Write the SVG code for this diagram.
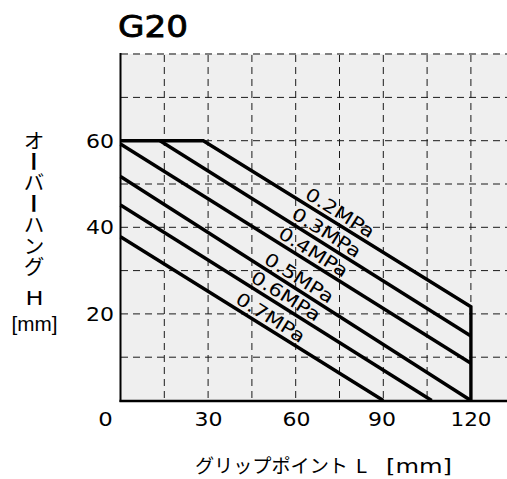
<svg xmlns="http://www.w3.org/2000/svg" width="507" height="479" viewBox="0 0 507 479">
<style>
.grid{stroke:#1a1a1a;stroke-width:1;stroke-dasharray:7 5;fill:none}
.topb{stroke:#808080;stroke-width:2;stroke-dasharray:7 5;fill:none}
.axis{stroke:#000;fill:none}
.curve{stroke:#000;stroke-width:3.4;fill:none;stroke-linejoin:miter;stroke-linecap:butt}
.num{font-family:"DejaVu Sans",sans-serif;font-size:19px;fill:#000}
.lbl{font-family:"DejaVu Sans",sans-serif;font-size:18px;fill:#000}
.jp{font-family:"Noto Sans CJK JP",sans-serif;font-size:20px;fill:#000}
.lat{font-family:"Liberation Sans",Arial,sans-serif;font-size:20px;fill:#000}
.dv{font-family:"DejaVu Sans",sans-serif;font-size:20px;fill:#000}
</style>
<rect width="507" height="479" fill="#fff"/>
<g id="plot">
<rect x="120.5" y="54" width="386.5" height="347" fill="#efefef"/>
<path class="grid" d="M164.3 55V400 M208.1 55V400 M251.9 55V400 M295.7 55V400 M339.5 55V400 M383.3 55V400 M427.1 55V400 M470.9 55V400"/>
<path class="grid" d="M121 97.4H507 M121 140.7H507 M121 184H507 M121 227.3H507 M121 270.6H507 M121 313.9H507 M121 357.2H507"/>
<path class="topb" d="M121 54.1H507"/>
<path class="axis" stroke-width="2" d="M120.5 53V402"/>
<path class="axis" stroke-width="2.5" d="M119.5 401H507"/>
</g>
<g id="curves">
<path class="curve" d="M120.5 140.7H203.3L470.9 306.7V400.5"/>
<path class="curve" d="M160 140.7L470.9 336"/>
<path class="curve" d="M120.5 144L470.9 363.3"/>
<path class="curve" d="M120.5 176.5L470.9 400.5"/>
<path class="curve" d="M120.5 205L431.7 400.5"/>
<path class="curve" d="M120.5 236.7L383.3 400.5"/>
</g>
<g id="curve-labels" class="lbl" text-anchor="middle">
<text transform="translate(336.7 218.1) rotate(32)" textLength="78" lengthAdjust="spacingAndGlyphs">0.2MPa</text>
<text transform="translate(323.2 237.9) rotate(32)" textLength="78" lengthAdjust="spacingAndGlyphs">0.3MPa</text>
<text transform="translate(310 257.3) rotate(32)" textLength="78" lengthAdjust="spacingAndGlyphs">0.4MPa</text>
<text transform="translate(295.9 283.2) rotate(32)" textLength="78" lengthAdjust="spacingAndGlyphs">0.5MPa</text>
<text transform="translate(282.5 301.4) rotate(32)" textLength="78" lengthAdjust="spacingAndGlyphs">0.6MPa</text>
<text transform="translate(267.2 322.8) rotate(32)" textLength="78" lengthAdjust="spacingAndGlyphs">0.7MPa</text>
</g>
<g id="title">
<text x="118" y="37" font-family="'DejaVu Sans',sans-serif" font-size="30" stroke="#000" stroke-width="0.8" textLength="70" lengthAdjust="spacingAndGlyphs">G20</text>
</g>
<g id="y-ticks" class="num" text-anchor="end">
<text x="114" y="147.7" textLength="28" lengthAdjust="spacingAndGlyphs">60</text>
<text x="114" y="234.3" textLength="28" lengthAdjust="spacingAndGlyphs">40</text>
<text x="114" y="321" textLength="28" lengthAdjust="spacingAndGlyphs">20</text>
</g>
<g id="x-ticks" class="num" text-anchor="middle">
<text x="105.5" y="426" textLength="14.5" lengthAdjust="spacingAndGlyphs">0</text>
<text x="208.5" y="426" textLength="28" lengthAdjust="spacingAndGlyphs">30</text>
<text x="296.5" y="426" textLength="28" lengthAdjust="spacingAndGlyphs">60</text>
<text x="382" y="426" textLength="28" lengthAdjust="spacingAndGlyphs">90</text>
<text x="471" y="426" textLength="41" lengthAdjust="spacingAndGlyphs">120</text>
</g>
<g id="y-axis-title">
<text class="jp" x="34" y="129.5" writing-mode="vertical-rl" style="font-size:21px">オ<tspan font-weight="bold">ー</tspan>バ<tspan font-weight="bold">ー</tspan>ハング</text>
<text class="dv" x="34.4" y="305" text-anchor="middle" textLength="18" lengthAdjust="spacingAndGlyphs">H</text>
<text class="lat" x="34.4" y="331" text-anchor="middle" textLength="46" lengthAdjust="spacingAndGlyphs">[mm]</text>
</g>
<g id="x-axis-title">
<text class="jp" x="195" y="472.5" style="font-size:19px" textLength="153" lengthAdjust="spacingAndGlyphs">グリップポイント</text>
<text class="dv" x="356" y="472.5" style="font-size:19px">L</text>
<text class="dv" x="386" y="472.5" style="font-size:19px" textLength="66" lengthAdjust="spacingAndGlyphs">[mm]</text>
</g>
</svg>
